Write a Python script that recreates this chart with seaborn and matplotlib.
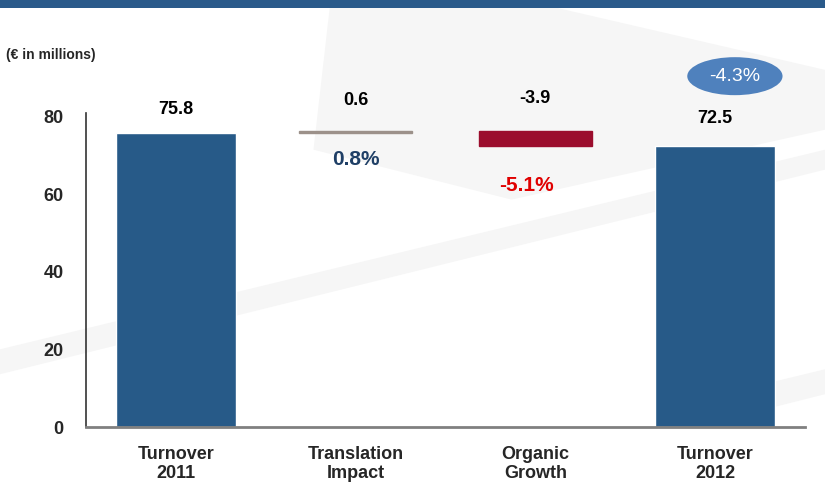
import numpy as np
import pandas as pd
import matplotlib.pyplot as plt
import matplotlib.patches as mpatches
import seaborn as sns

# ==========================================
# Data
# ==========================================
categories = ['Turnover\n2011', 'Translation\nImpact', 'Organic\nGrowth', 'Turnover\n2012']
values = [75.8, 0.6, -3.9, 72.5]
is_total = [True, False, False, True]
pct_labels = [None, '0.8%', '-5.1%', None]
total_change = '-4.3%'
yticks = [0, 20, 40, 60, 80]

BLUE = '#275a88'
GREY = '#9c918a'
RED = '#9b0d2d'
FONT = ['Liberation Sans Narrow', 'Liberation Sans', 'DejaVu Sans']

sns.set_style('white')
plt.rcParams['font.family'] = FONT

fig = plt.figure(figsize=(8.25, 4.99), dpi=100)

# background layer: faint swooshes + top band
bg = fig.add_axes([0, 0, 1, 1], zorder=-1)
bg.set_xlim(0, 1)
bg.set_ylim(0, 1)
bg.axis('off')
for pts in [
    [(0.40, 0.99), (0.66, 0.99), (1.0, 0.86), (1.0, 0.74), (0.62, 0.60), (0.38, 0.70)],
    [(0.00, 0.30), (1.0, 0.70), (1.0, 0.66), (0.00, 0.25)],
    [(0.85, 0.20), (1.0, 0.26), (1.0, 0.21), (0.88, 0.16)],
]:
    bg.add_patch(mpatches.Polygon(pts, closed=True, facecolor='#f6f6f6', edgecolor='none'))
bg.add_patch(mpatches.Rectangle((0, 1 - 8 / 499), 1, 8 / 499, facecolor='#2a5a8a', edgecolor='none'))

ax = fig.add_axes([86 / 825, 1 - 427 / 499, 719 / 825, 314 / 499])
ax.patch.set_alpha(0)

# running bottoms for the waterfall
bottoms = []
running = 0
for v, tot in zip(values, is_total):
    if tot:
        bottoms.append(0)
        running = v
    else:
        bottoms.append(running + min(v, 0))
        running += v

df = pd.DataFrame({'cat': categories,
                   'total': [v if t else 0 for v, t in zip(values, is_total)]})
sns.barplot(data=df, x='cat', y='total', color=BLUE, width=0.67, saturation=1, ax=ax)

x = np.arange(len(categories))
float_colors = [GREY if v > 0 else RED for v in values]
for i, (v, b, tot) in enumerate(zip(values, bottoms, is_total)):
    if not tot:
        ax.bar(x[i], abs(v), bottom=b, width=0.63, color=float_colors[i],
               edgecolor=float_colors[i], linewidth=1, clip_on=False)

# value labels
label_y = [81.8, 84.3, 84.8, 79.7]
for i, v in enumerate(values):
    ax.text(x[i], label_y[i], f'{v:.1f}', ha='center', va='center', fontsize=13,
            fontweight='bold', color='black', clip_on=False)

pct_y = [None, 68.9, 62.4, None]
pct_x = [None, 0.0, -0.05, None]
pct_colors = [None, '#1f3f66', '#e00000']
for i, p in enumerate(pct_labels):
    if p:
        ax.text(x[i] + pct_x[i], pct_y[i], p, ha='center', va='center', fontsize=15,
                fontweight='bold', color=pct_colors[i], clip_on=False)

# total change bubble
ax.add_patch(mpatches.Ellipse((3.11, 90.5), 0.53, 9.8, facecolor='#4f81bd',
                              edgecolor='none', clip_on=False))
ax.text(3.11, 90.5, total_change, ha='center', va='center', fontsize=14,
        color='white', clip_on=False)

fig.text(6 / 825, 1 - 55 / 499, '(€ in millions)', ha='left', va='center',
         fontsize=10, fontweight='bold')

ax.set_xlim(-0.5, 3.5)
ax.set_ylim(0, 81)
ax.set_yticks(yticks)
ax.set_yticklabels([str(t) for t in yticks], fontsize=13, fontweight='bold')
ax.set_xticks(x)
ax.set_xticklabels(categories, fontsize=13, fontweight='bold', linespacing=1.1)
ax.set_xlabel('')
ax.set_ylabel('')
ax.tick_params(axis='y', length=0, pad=16)
ax.tick_params(axis='x', length=0, pad=14)
for s in ['top', 'right']:
    ax.spines[s].set_visible(False)
ax.spines['left'].set_color('#333333')
ax.spines['left'].set_linewidth(1.2)
ax.spines['bottom'].set_color('#808080')
ax.spines['bottom'].set_linewidth(2)

fig.savefig('out.png', dpi=100)
